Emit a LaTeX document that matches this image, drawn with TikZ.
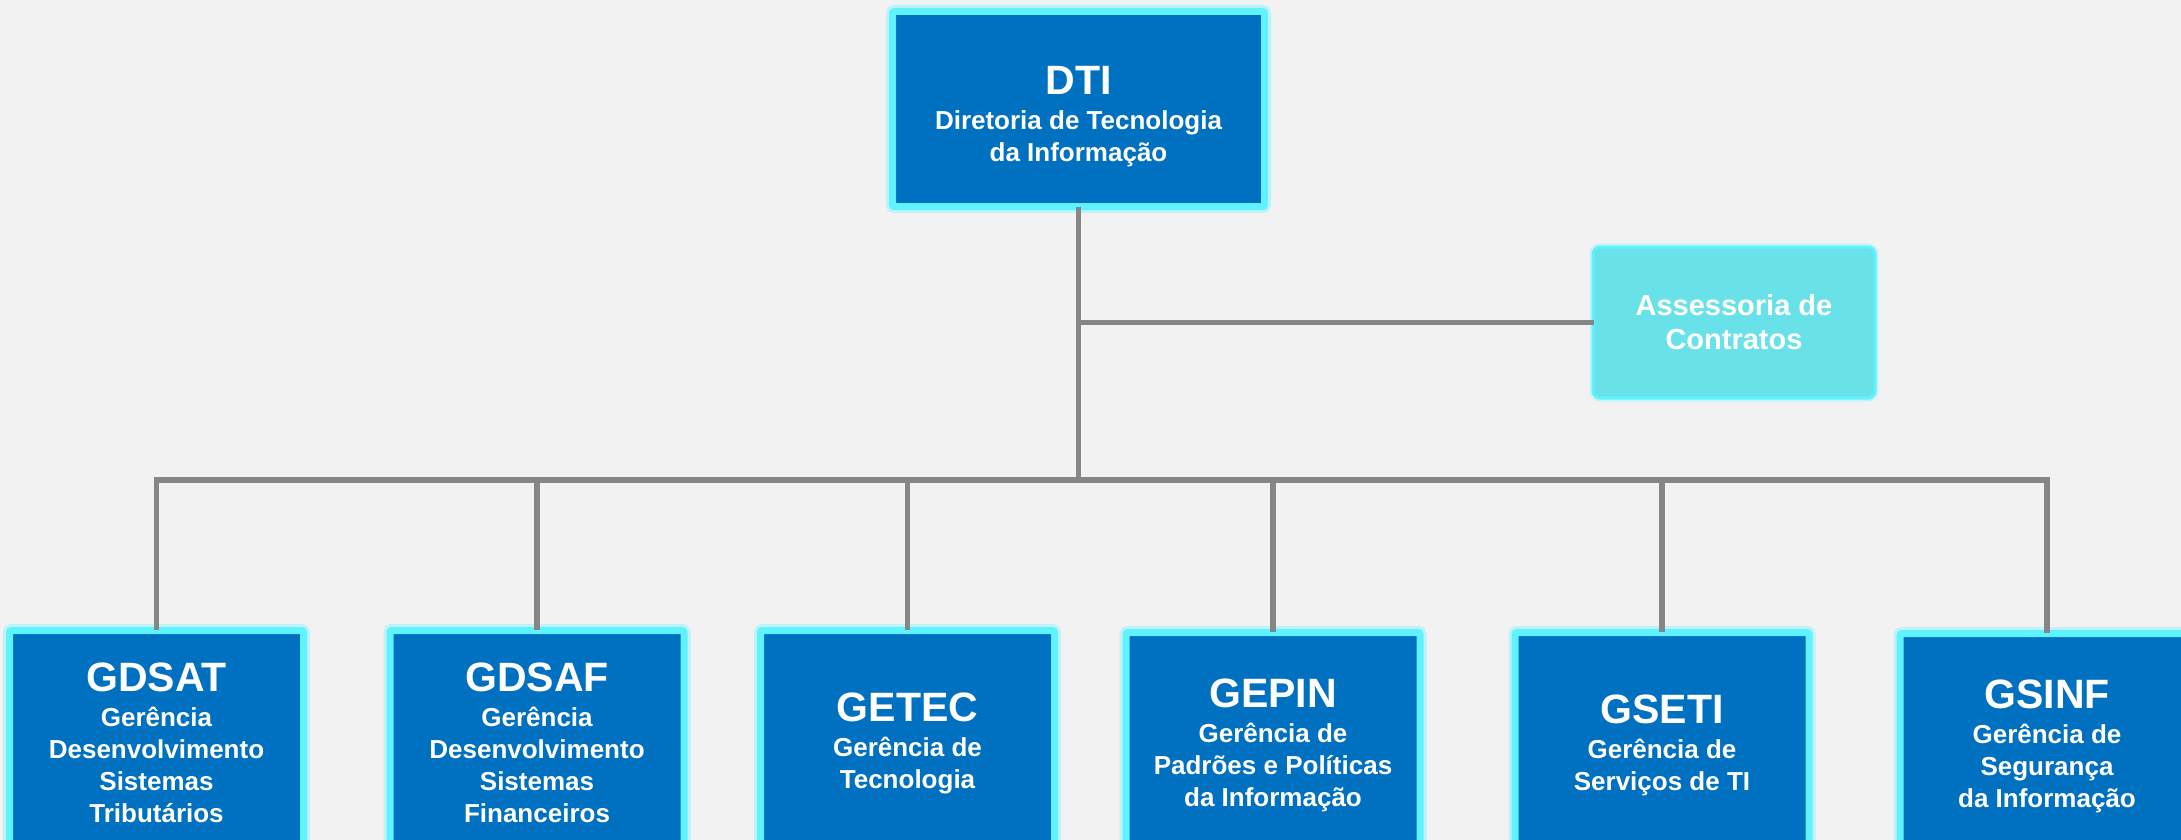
\documentclass[tikz,border=0pt]{standalone}
\usepackage{fontspec}
\setmainfont{Liberation Sans}
\usepackage{tikz}
\usetikzlibrary{positioning}

\definecolor{bgpage}{HTML}{F2F2F2}
\definecolor{unitblue}{HTML}{0070C0}
\definecolor{glowcyan}{HTML}{5FF2FF}
\definecolor{advcyan}{HTML}{69E1E9}
\definecolor{linkgray}{HTML}{868686}

\newcommand{\unitname}[1]{{\fontsize{41}{41}\selectfont #1}\\[3pt]}

\begin{document}
\begin{tikzpicture}
	[
		x=1pt, y=-1pt,
		font=\fontsize{26}{32}\selectfont\bfseries,
		unit/.style={draw=glowcyan, line width=7pt, fill=unitblue, text=white,
			align=center, inner sep=0pt, rounded corners=2pt,
			minimum width=294pt, minimum height=225pt,
			preaction={draw=glowcyan!35!bgpage, line width=13pt}},
		chief/.style={unit, minimum width=372pt, minimum height=195pt},
		advisor/.style={draw=glowcyan, line width=3pt, fill=advcyan, text=white,
			align=center, inner sep=0pt, rounded corners=7pt,
			minimum width=282pt, minimum height=151pt,
			font=\fontsize{29}{34}\selectfont\bfseries,
			preaction={draw=glowcyan!30!bgpage, line width=7pt}},
		link/.style={draw=linkgray, line width=5.5pt, line cap=rect}
	]

	\useasboundingbox (0,0) rectangle (2181,840);
	\clip (0,0) rectangle (2181,840);
	\fill[bgpage] (0,0) rectangle (2181,840);

	% top
	\node[chief] (dti) at (1078.5,109) {\unitname{\rule{0pt}{44pt}DTI}Diretoria de Tecnologia\\da Informação};
	\node[advisor] (contratos) at (1734,322.5) {Assessoria de\\Contratos};

	% units
	\node[unit] (gdsat) at ( 156.5,743) {\unitname{GDSAT}Gerência\\Desenvolvimento\\Sistemas\\Tributários};
	\node[unit] (gdsaf) at ( 537.0,743) {\unitname{GDSAF}Gerência\\Desenvolvimento\\Sistemas\\Financeiros};
	\node[unit] (getec) at ( 907.5,743) {\unitname{GETEC}Gerência de\\Tecnologia};
	\node[unit] (gepin) at (1273.0,745) {\unitname{GEPIN}Gerência de\\Padrões e Políticas\\da Informação};
	\node[unit] (gseti) at (1662.0,745) {\unitname{GSETI}Gerência de\\Serviços de TI};
	\node[unit] (gsinf) at (2047.0,746) {\unitname{GSINF}Gerência de\\Segurança\\da Informação};

	% connections
	\coordinate (bus) at (1080,480);
	\draw[link] (dti) -- (dti |- bus);
	\draw[link] (dti |- contratos) -- (contratos);
	\draw[link] (gdsat.north |- bus) -- (gsinf.north |- bus);
	\foreach \u in {gdsat,gdsaf,getec,gepin,gseti,gsinf}
	\draw[link] (\u.north |- bus) -- (\u);

\end{tikzpicture}
\end{document}
